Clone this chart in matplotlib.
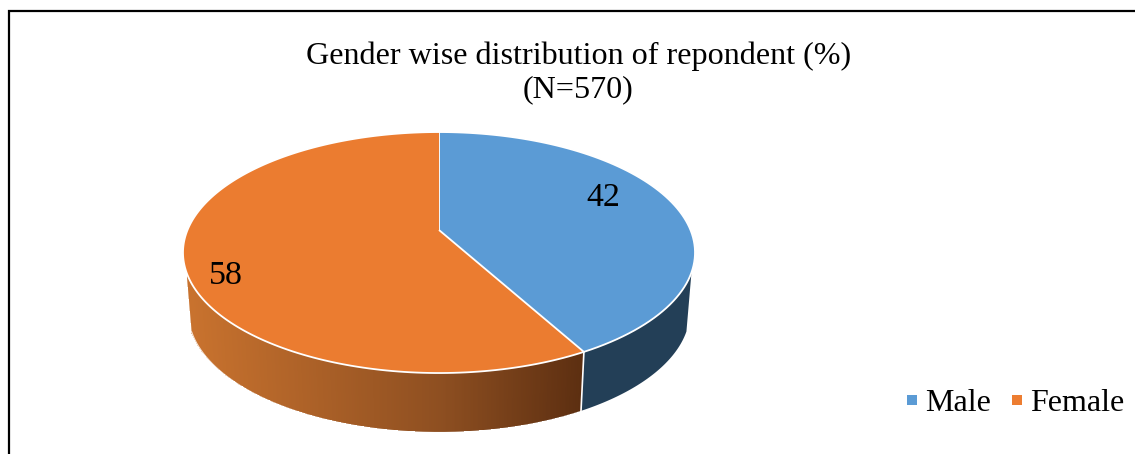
import numpy as np
import matplotlib
matplotlib.use("Agg")
import matplotlib.pyplot as plt
from matplotlib.lines import Line2D
from matplotlib.path import Path
from matplotlib.transforms import Transform
from matplotlib.colors import to_rgb

categories = ["Male", "Female"]
values = [42, 58]
colors = ["#5B9BD5", "#EB7C30"]
legend_colors = ["#5B9BD5", "#ED7D31"]
title = "Gender wise distribution of repondent (%)\n(N=570)"

plt.rcParams["font.family"] = ["Liberation Serif", "DejaVu Serif"]

# geometry of the tilted disc, in pixels
CX, CY = 439.0, 252.0
A, B, C, K = 251.5, 120.4, 22.0, 0.187
DEPTH, SHRINK = 59.0, 0.98


def project(u, v, drop=0.0, scale=1.0):
    w = 1 + K * v
    return CX + scale * A * u / w, CY - (B * v + C) / w + drop


class Tilt(Transform):
    input_dims = output_dims = 2
    is_separable = False
    has_inverse = False

    def transform_non_affine(self, values):
        p = np.asarray(values, float)
        x, y = project(p[:, 0], p[:, 1])
        return np.column_stack([x, y])

    def transform_path_non_affine(self, path):
        pts = []
        for curve, code in path.iter_bezier():
            if code == Path.MOVETO:
                pts.append(curve(np.array([0.0])))
            elif code == Path.CLOSEPOLY:
                continue
            else:
                pts.append(curve(np.linspace(0, 1, 24)[1:]))
        return Path(self.transform_non_affine(np.vstack(pts)), closed=False)


fig = plt.figure(figsize=(11.35, 4.54), dpi=100)
ax = fig.add_axes([0, 0, 1, 1])

wedges, _ = ax.pie(values, colors=colors, startangle=90, counterclock=False,
                   radius=1, wedgeprops=dict(edgecolor="white", linewidth=1.3, joinstyle="round"))
ax.set_aspect("auto")
ax.set_xlim(0, 1135)
ax.set_ylim(454, 0)
ax.axis("off")
tilt = Tilt()
for w in wedges:
    w.set_transform(tilt + ax.transData)
    w.set_clip_on(False)
    w.set_zorder(5)

# side walls, split where the slices meet
split = np.deg2rad(90 - 360 * values[0] / sum(values))
sil_r, sil_l = np.deg2rad(-20), np.deg2rad(-160)


def wall(t0, t1, n):
    t = np.linspace(t0, t1, n)
    u, v = np.cos(t), np.sin(t)
    x0, y0 = project(u, v)
    x1, y1 = project(u, v, DEPTH, SHRINK)
    return np.vstack([x0, x1]), np.vstack([y0, y1])


X, Y = wall(sil_r, split, 60)
ax.fill(np.r_[X[0], X[1][::-1]], np.r_[Y[0], Y[1][::-1]], color="#233F57", lw=0, zorder=2)

X, Y = wall(split, sil_l, 300)
mid = (X[0, :-1] + X[0, 1:]) / 2
stops_x = [190, 440, 590]
stops = np.array([to_rgb("#C8722E"), to_rgb("#8E4F21"), to_rgb("#5A2D10")])
rgb = np.column_stack([np.interp(mid, stops_x, stops[:, i]) for i in range(3)])
ax.pcolormesh(X, Y, rgb[None, :, :], shading="flat", antialiased=False, zorder=2)
ax.plot(X[1], Y[1] + 0.6, color="white", lw=1.0, alpha=0.8, zorder=3)
ax.plot(X[:, -1] - 0.6, Y[:, -1], color="white", lw=1.0, alpha=0.8, zorder=3)

xs, ys = wall(split, split, 2)
ax.plot(xs[:, 0], ys[:, 0], color="white", lw=1.2, zorder=3)

# border of the chart area
ax.plot([9, 9, 1135], [454, 10.5, 10.5], color="black", lw=1.6, solid_joinstyle="miter", zorder=1)

ax.text(578.5, 72.5, title, ha="center", va="center", fontsize=23.1, color="black",
        linespacing=1.2, zorder=6)
ax.text(603, 198, str(values[0]), ha="center", va="center", fontsize=24.5, zorder=6)
ax.text(225.5, 276, str(values[1]), ha="center", va="center", fontsize=24.5, zorder=6)

handles = [Line2D([], [], ls="", marker="s", ms=7.6, color=c, label=l, mew=0)
           for c, l in zip(legend_colors, categories)]
ax.legend(handles=handles, ncol=2, frameon=False, fontsize=23, loc="center right",
          bbox_to_anchor=(1124, 403), bbox_transform=ax.transData, handlelength=0.4,
          handletextpad=0.2, columnspacing=0.61, borderpad=0, borderaxespad=0)

fig.savefig("out.png", dpi=100)
